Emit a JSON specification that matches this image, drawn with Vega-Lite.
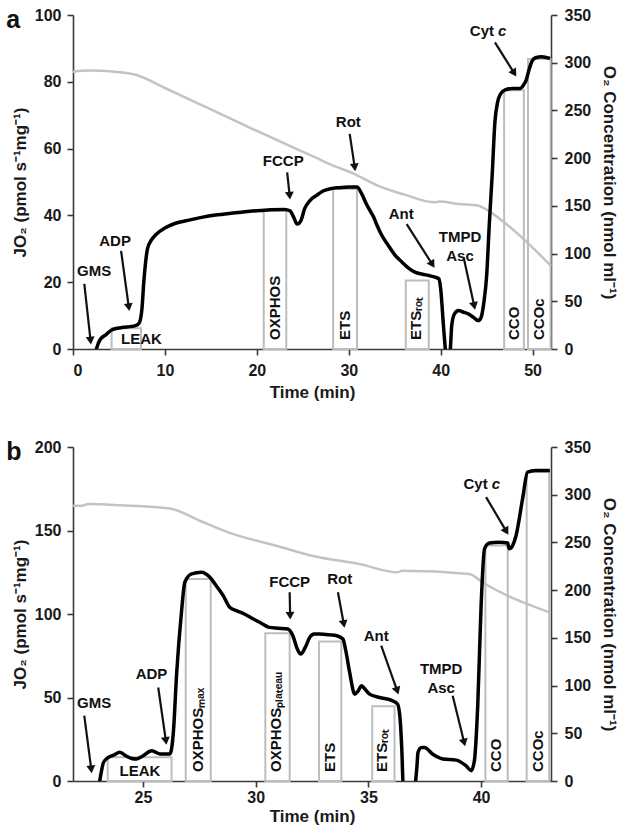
{
  "$schema": "https://vega.github.io/schema/vega-lite/v6.json",
  "background": "white",
  "padding": {"left": 6, "right": 5, "top": 7, "bottom": 3},
  "spacing": 39,
  "config": {
    "font": "Liberation Sans",
    "view": {"stroke": null},
    "axis": {"grid": false, "domainColor": "#3a3a3a", "domainWidth": 1.6, "tickColor": "#3a3a3a", "tickWidth": 1.6, "tickSize": 6, "labelFont": "Liberation Sans", "labelFontSize": 16, "labelFontWeight": "bold", "labelColor": "#1a1a1a", "titleFont": "Liberation Sans", "titleFontSize": 17, "titleFontWeight": "bold", "titleColor": "#1a1a1a"},
    "axisX": {"labelPadding": 7, "titlePadding": 6},
    "axisLeft": {"labelPadding": 6, "titlePadding": 5},
    "axisRight": {"labelPadding": 7, "titlePadding": 9}
  },
  "datasets": {
    "traceA": [
      {"t": 2.4, "v": -2}, {"t": 2.6, "v": 0.5}, {"t": 3.0, "v": 3.0}, {"t": 3.6, "v": 4.3}, {"t": 4.1, "v": 5.5}, {"t": 4.8, "v": 6.2}, {"t": 5.5, "v": 6.5}, {"t": 6.2, "v": 6.7}, {"t": 6.8, "v": 7.0}, {"t": 7.2, "v": 7.8}, {"t": 7.5, "v": 12}, {"t": 7.7, "v": 20}, {"t": 7.9, "v": 26}, {"t": 8.1, "v": 30}, {"t": 8.5, "v": 32.5}, {"t": 9.0, "v": 34.2}, {"t": 10.0, "v": 36.2}, {"t": 11.0, "v": 37.5}, {"t": 12.5, "v": 38.5}, {"t": 14.0, "v": 39.4}, {"t": 15.5, "v": 40.1}, {"t": 17.0, "v": 40.6}, {"t": 18.5, "v": 41.0}, {"t": 20.0, "v": 41.4}, {"t": 21.5, "v": 41.7}, {"t": 23.0, "v": 41.8}, {"t": 23.6, "v": 41.4}, {"t": 24.0, "v": 39.5}, {"t": 24.4, "v": 37.4}, {"t": 24.8, "v": 38.5}, {"t": 25.2, "v": 42}, {"t": 25.8, "v": 44.5}, {"t": 26.5, "v": 46}, {"t": 27.2, "v": 47.3}, {"t": 28.0, "v": 48.0}, {"t": 29.0, "v": 48.3}, {"t": 30.0, "v": 48.5}, {"t": 30.9, "v": 48.5}, {"t": 31.4, "v": 46.5}, {"t": 31.9, "v": 43.5}, {"t": 32.4, "v": 41}, {"t": 32.7, "v": 39.5}, {"t": 33.0, "v": 37.5}, {"t": 33.5, "v": 34.5}, {"t": 34.3, "v": 31}, {"t": 35.0, "v": 28.2}, {"t": 35.8, "v": 26}, {"t": 36.5, "v": 24.2}, {"t": 37.2, "v": 23}, {"t": 38.0, "v": 22.4}, {"t": 38.7, "v": 22}, {"t": 39.4, "v": 21.5}, {"t": 39.8, "v": 21}, {"t": 40.0, "v": 18}, {"t": 40.3, "v": 7}, {"t": 40.5, "v": 0}, {"t": 40.6, "v": -3}, {"t": 40.95, "v": -3}, {"t": 41.05, "v": 0}, {"t": 41.2, "v": 7}, {"t": 41.5, "v": 10.5}, {"t": 41.95, "v": 11.5}, {"t": 42.5, "v": 11}, {"t": 43.0, "v": 10.5}, {"t": 43.6, "v": 9.4}, {"t": 44.1, "v": 8.5}, {"t": 44.4, "v": 9.5}, {"t": 44.7, "v": 14}, {"t": 45.0, "v": 22}, {"t": 45.3, "v": 38}, {"t": 45.6, "v": 52}, {"t": 45.9, "v": 68}, {"t": 46.2, "v": 74}, {"t": 46.5, "v": 76.3}, {"t": 47.0, "v": 77.6}, {"t": 47.8, "v": 78}, {"t": 48.6, "v": 78}, {"t": 49.0, "v": 79}, {"t": 49.3, "v": 80.5}, {"t": 49.6, "v": 83.5}, {"t": 49.9, "v": 86}, {"t": 50.3, "v": 87.2}, {"t": 51.0, "v": 87.5}, {"t": 51.9, "v": 87}
    ],
    "o2A": [
      {"t": 0, "c": 290.6}, {"t": 1.0, "c": 291.5}, {"t": 2.1, "c": 291.8}, {"t": 4.0, "c": 291}, {"t": 6.9, "c": 287.2}, {"t": 10, "c": 273.5}, {"t": 15, "c": 251}, {"t": 20, "c": 228.5}, {"t": 24, "c": 211}, {"t": 26.2, "c": 201.5}, {"t": 28, "c": 193.5}, {"t": 30.7, "c": 183}, {"t": 33.2, "c": 171}, {"t": 36, "c": 162}, {"t": 39.4, "c": 153.7}, {"t": 39.8, "c": 154.5}, {"t": 42, "c": 152}, {"t": 44.1, "c": 150.2}, {"t": 44.85, "c": 146.8}, {"t": 46.9, "c": 132.8}, {"t": 49.4, "c": 111.8}, {"t": 52, "c": 87}
    ],
    "barsA": [
      {"name": "LEAK", "x1": 4.2, "x2": 7.4, "top": 6.2, "lx": null},
      {"name": "OXPHOS", "x1": 20.75, "x2": 23.2, "top": 41.5, "lx": 22.0},
      {"name": "ETS", "x1": 28.3, "x2": 30.9, "top": 47.9, "lx": 29.6},
      {"name": "ETSᵣₒₜ", "x1": 36.2, "x2": 38.7, "top": 20.5, "lx": 37.3},
      {"name": "CCO", "x1": 46.9, "x2": 49.05, "top": 77.5, "lx": 48.0},
      {"name": "CCOc", "x1": 49.5, "x2": 51.95, "top": 86.8, "lx": 50.65}
    ],
    "annA": [
      {"label": "GMS", "lx": 2.3, "ly": 23.3, "ax1": 1.23, "ay1": 19.5, "ax2": 1.91, "ay2": 2.5, "ang": -6},
      {"label": "ADP", "lx": 4.58, "ly": 32.4, "ax1": 5.23, "ay1": 29.4, "ax2": 6.07, "ay2": 12.5, "ang": -8},
      {"label": "FCCP", "lx": 22.87, "ly": 56.4, "ax1": 23.3, "ay1": 52.9, "ax2": 23.57, "ay2": 45.9, "ang": -5},
      {"label": "Rot", "lx": 29.95, "ly": 67.9, "ax1": 30.1, "ay1": 64.4, "ax2": 30.65, "ay2": 54.4, "ang": -7},
      {"label": "Ant", "lx": 35.7, "ly": 40.4, "ax1": 36.3, "ay1": 37.4, "ax2": 39.1, "ay2": 25.3, "ang": -32},
      {"label": "TMPD\nAsc", "lx": 42.1, "ly": 33.5, "ax1": 42.5, "ay1": 27.4, "ax2": 43.65, "ay2": 12.9, "ang": -12},
      {"label": "Cyt", "lx": 45.8, "ly": 95.3, "ax1": 45.9, "ay1": 91.8, "ax2": 48.0, "ay2": 82.6, "ang": -32},
      {"label": "LEAK", "lx": 7.45, "ly": 3.0, "ax1": null, "ay1": null, "ax2": null, "ay2": null, "ang": null}
    ],
    "traceB": [
      {"t": 23.05, "v": -3}, {"t": 23.15, "v": 5}, {"t": 23.25, "v": 11}, {"t": 23.45, "v": 14}, {"t": 23.7, "v": 15.5}, {"t": 23.98, "v": 17.2}, {"t": 24.28, "v": 14.8}, {"t": 24.5, "v": 13.5}, {"t": 24.72, "v": 13.2}, {"t": 25.0, "v": 15}, {"t": 25.39, "v": 18.1}, {"t": 25.75, "v": 16.2}, {"t": 26.2, "v": 16.2}, {"t": 26.35, "v": 29}, {"t": 26.5, "v": 65}, {"t": 26.71, "v": 101}, {"t": 26.86, "v": 119}, {"t": 27.16, "v": 124}, {"t": 27.6, "v": 125}, {"t": 27.97, "v": 122}, {"t": 28.3, "v": 116}, {"t": 28.56, "v": 111}, {"t": 28.85, "v": 104}, {"t": 29.15, "v": 102}, {"t": 29.5, "v": 100}, {"t": 29.9, "v": 97}, {"t": 30.25, "v": 94.5}, {"t": 30.6, "v": 92}, {"t": 31.0, "v": 91.5}, {"t": 31.43, "v": 91}, {"t": 31.65, "v": 87}, {"t": 31.85, "v": 79}, {"t": 32.0, "v": 76}, {"t": 32.2, "v": 80}, {"t": 32.4, "v": 86}, {"t": 32.6, "v": 88}, {"t": 32.84, "v": 88}, {"t": 33.3, "v": 87.5}, {"t": 33.6, "v": 87}, {"t": 33.87, "v": 85}, {"t": 34.0, "v": 78}, {"t": 34.17, "v": 65}, {"t": 34.4, "v": 52}, {"t": 34.55, "v": 54}, {"t": 34.7, "v": 57}, {"t": 34.85, "v": 55}, {"t": 35.05, "v": 52}, {"t": 35.5, "v": 50}, {"t": 36.08, "v": 48}, {"t": 36.3, "v": 46}, {"t": 36.42, "v": 35}, {"t": 36.48, "v": 20}, {"t": 36.55, "v": -3}, {"t": 37.05, "v": -3}, {"t": 37.15, "v": 8}, {"t": 37.2, "v": 17}, {"t": 37.35, "v": 20}, {"t": 37.49, "v": 20}, {"t": 37.86, "v": 16}, {"t": 38.3, "v": 13.2}, {"t": 38.9, "v": 12.5}, {"t": 39.34, "v": 9}, {"t": 39.56, "v": 6.2}, {"t": 39.7, "v": 12}, {"t": 39.85, "v": 45}, {"t": 40.0, "v": 105}, {"t": 40.15, "v": 139}, {"t": 40.37, "v": 142.5}, {"t": 40.8, "v": 143}, {"t": 41.18, "v": 142.5}, {"t": 41.25, "v": 139}, {"t": 41.4, "v": 141}, {"t": 41.55, "v": 147}, {"t": 41.84, "v": 169}, {"t": 42.06, "v": 185}, {"t": 42.4, "v": 186}, {"t": 43.05, "v": 186}
    ],
    "o2B": [
      {"t": 21.9, "c": 288.5}, {"t": 22.3, "c": 288.5}, {"t": 22.58, "c": 290.3}, {"t": 24, "c": 289}, {"t": 26.2, "c": 285.5}, {"t": 27.5, "c": 273}, {"t": 28.78, "c": 260.6}, {"t": 31, "c": 246}, {"t": 32.6, "c": 235.5}, {"t": 34.6, "c": 227.4}, {"t": 36.3, "c": 218.7}, {"t": 36.5, "c": 220.4}, {"t": 39.48, "c": 216.9}, {"t": 40.07, "c": 208}, {"t": 43.07, "c": 176.4}
    ],
    "barsB": [
      {"name": "LEAK", "x1": 23.44, "x2": 26.27, "top": 14.2, "lx": null},
      {"name": "OXPHOSₘₐₓ", "x1": 26.9, "x2": 28.01, "top": 121, "lx": 27.45},
      {"name": "OXPHOSₚₗₐₜₑₐᵤ", "x1": 30.43, "x2": 31.51, "top": 88.4, "lx": 30.9},
      {"name": "ETS", "x1": 32.81, "x2": 33.8, "top": 83.6, "lx": 33.3},
      {"name": "ETSᵣₒₜ", "x1": 35.17, "x2": 36.16, "top": 44.7, "lx": 35.62},
      {"name": "CCO", "x1": 40.19, "x2": 41.18, "top": 141, "lx": 40.68},
      {"name": "CCOc", "x1": 42.02, "x2": 43.02, "top": 185, "lx": 42.52}
    ],
    "annB": [
      {"label": "GMS", "lx": 22.84, "ly": 46.7, "ax1": 22.4, "ay1": 39.1, "ax2": 22.71, "ay2": 7, "ang": -7},
      {"label": "ADP", "lx": 25.38, "ly": 64, "ax1": 25.68, "ay1": 56, "ax2": 26.02, "ay2": 24, "ang": -8},
      {"label": "FCCP", "lx": 31.51, "ly": 119, "ax1": 31.51, "ay1": 113, "ax2": 31.53, "ay2": 99, "ang": -2},
      {"label": "Rot", "lx": 33.73, "ly": 121, "ax1": 33.65, "ay1": 113, "ax2": 33.91, "ay2": 94, "ang": -10},
      {"label": "Ant", "lx": 35.35, "ly": 87, "ax1": 35.57, "ay1": 81, "ax2": 36.28, "ay2": 54, "ang": -19},
      {"label": "TMPD\nAsc", "lx": 38.23, "ly": 67, "ax1": 38.74, "ay1": 51, "ax2": 39.25, "ay2": 23, "ang": -14},
      {"label": "Cyt", "lx": 40.29, "ly": 177.8, "ax1": 40.22, "ay1": 170, "ax2": 41.12, "ay2": 149.5, "ang": -30},
      {"label": "LEAK", "lx": 24.87, "ly": 5.8, "ax1": null, "ay1": null, "ax2": null, "ay2": null, "ang": null}
    ]
  },
  "vconcat": [
    {
      "title": {"text": "a", "anchor": "start", "frame": "bounds", "fontSize": 25, "fontWeight": "bold", "font": "Liberation Sans", "color": "#111", "dy": 30, "dx": -5},
      "width": 478,
      "height": 334,
      "resolve": {"scale": {"y": "independent"}},
      "layer": [
        {
          "data": {"name": "o2A"},
          "mark": {"type": "line", "color": "#c3c3c3", "strokeWidth": 2.5, "interpolate": "monotone"},
          "encoding": {
            "x": {"field": "t", "type": "quantitative", "scale": {"domain": [0, 52], "nice": false, "zero": false}, "axis": {"title": "Time (min)", "values": [0, 10, 20, 30, 40, 50]}},
            "y": {"field": "c", "type": "quantitative", "scale": {"domain": [0, 350], "nice": false}, "axis": {"orient": "right", "title": "O₂ Concentration (nmol ml⁻¹)", "values": [0, 50, 100, 150, 200, 250, 300, 350]}}
          }
        },
        {
          "layer": [
            {
              "data": {"name": "barsA"},
              "mark": {"type": "rect", "fill": "transparent", "stroke": "#bdbdbd", "strokeWidth": 2},
              "encoding": {
                "x": {"field": "x1", "type": "quantitative"},
                "x2": {"field": "x2"},
                "y": {"field": "top", "type": "quantitative", "scale": {"domain": [0, 100], "nice": false}, "axis": {"orient": "left", "title": "JO₂ (pmol s⁻¹mg⁻¹)", "values": [0, 20, 40, 60, 80, 100]}},
                "y2": {"datum": 0}
              }
            },
            {
              "data": {"name": "traceA"},
              "mark": {"type": "line", "color": "#000", "strokeWidth": 3.5, "interpolate": "monotone", "clip": true},
              "encoding": {
                "x": {"field": "t", "type": "quantitative"},
                "y": {"field": "v", "type": "quantitative"}
              }
            },
            {
              "data": {"name": "barsA"},
              "transform": [{"filter": "isValid(datum.lx)"}],
              "mark": {"type": "text", "angle": 270, "align": "left", "baseline": "middle", "dx": 9, "fontSize": 15, "fontWeight": "bold", "color": "#111"},
              "encoding": {
                "x": {"field": "lx", "type": "quantitative"},
                "y": {"datum": 0},
                "text": {"field": "name"}
              }
            },
            {
              "data": {"name": "annA"},
              "transform": [{"filter": "isValid(datum.ax1)"}],
              "mark": {"type": "rule", "color": "#111", "strokeWidth": 2.2},
              "encoding": {
                "x": {"field": "ax1", "type": "quantitative"},
                "y": {"field": "ay1", "type": "quantitative"},
                "x2": {"field": "ax2"},
                "y2": {"field": "ay2"}
              }
            },
            {
              "data": {"name": "annA"},
              "transform": [{"filter": "isValid(datum.ax1)"}],
              "mark": {"type": "point", "shape": "triangle-down", "filled": true, "color": "#111", "size": 80, "opacity": 1},
              "encoding": {
                "x": {"field": "ax2", "type": "quantitative"},
                "y": {"field": "ay2", "type": "quantitative"},
                "angle": {"field": "ang", "type": "quantitative", "scale": null}
              }
            },
            {
              "data": {"name": "annA"},
              "transform": [{"filter": "datum.label != 'Cyt'"}],
              "mark": {"type": "text", "align": "center", "baseline": "middle", "fontSize": 15, "fontWeight": "bold", "color": "#111", "lineBreak": "\n", "lineHeight": 19},
              "encoding": {
                "x": {"field": "lx", "type": "quantitative"},
                "y": {"field": "ly", "type": "quantitative"},
                "text": {"field": "label"}
              }
            },
            {
              "data": {"name": "annA"},
              "transform": [{"filter": "datum.label == 'Cyt'"}],
              "mark": {"type": "text", "align": "right", "baseline": "middle", "fontSize": 15, "fontWeight": "bold", "color": "#111"},
              "encoding": {
                "x": {"field": "lx", "type": "quantitative"},
                "y": {"field": "ly", "type": "quantitative"},
                "text": {"field": "label"}
              }
            },
            {
              "data": {"name": "annA"},
              "transform": [{"filter": "datum.label == 'Cyt'"}],
              "mark": {"type": "text", "align": "left", "baseline": "middle", "dx": 4, "fontSize": 15, "fontWeight": "bold", "fontStyle": "italic", "color": "#111"},
              "encoding": {
                "x": {"field": "lx", "type": "quantitative"},
                "y": {"field": "ly", "type": "quantitative"},
                "text": {"value": "c"}
              }
            }
          ]
        }
      ]
    },
    {
      "title": {"text": "b", "anchor": "start", "frame": "bounds", "fontSize": 25, "fontWeight": "bold", "font": "Liberation Sans", "color": "#111", "dy": 30, "dx": -5},
      "width": 478,
      "height": 334,
      "resolve": {"scale": {"y": "independent"}},
      "layer": [
        {
          "data": {"name": "o2B"},
          "mark": {"type": "line", "color": "#c3c3c3", "strokeWidth": 2.5, "interpolate": "monotone"},
          "encoding": {
            "x": {"field": "t", "type": "quantitative", "scale": {"domain": [21.9, 43.1], "nice": false, "zero": false}, "axis": {"title": "Time (min)", "values": [25, 30, 35, 40], "labelPadding": 2, "titlePadding": 3}},
            "y": {"field": "c", "type": "quantitative", "scale": {"domain": [0, 350], "nice": false}, "axis": {"orient": "right", "title": "O₂ Concentration (nmol ml⁻¹)", "values": [0, 50, 100, 150, 200, 250, 300, 350]}}
          }
        },
        {
          "layer": [
            {
              "data": {"name": "barsB"},
              "mark": {"type": "rect", "fill": "transparent", "stroke": "#bdbdbd", "strokeWidth": 2},
              "encoding": {
                "x": {"field": "x1", "type": "quantitative"},
                "x2": {"field": "x2"},
                "y": {"field": "top", "type": "quantitative", "scale": {"domain": [0, 200], "nice": false}, "axis": {"orient": "left", "title": "JO₂ (pmol s⁻¹mg⁻¹)", "values": [0, 50, 100, 150, 200]}},
                "y2": {"datum": 0}
              }
            },
            {
              "data": {"name": "traceB"},
              "mark": {"type": "line", "color": "#000", "strokeWidth": 3.5, "interpolate": "monotone", "clip": true},
              "encoding": {
                "x": {"field": "t", "type": "quantitative"},
                "y": {"field": "v", "type": "quantitative"}
              }
            },
            {
              "data": {"name": "barsB"},
              "transform": [{"filter": "isValid(datum.lx)"}],
              "mark": {"type": "text", "angle": 270, "align": "left", "baseline": "middle", "dx": 9, "fontSize": 15, "fontWeight": "bold", "color": "#111"},
              "encoding": {
                "x": {"field": "lx", "type": "quantitative"},
                "y": {"datum": 0},
                "text": {"field": "name"}
              }
            },
            {
              "data": {"name": "annB"},
              "transform": [{"filter": "isValid(datum.ax1)"}],
              "mark": {"type": "rule", "color": "#111", "strokeWidth": 2.2},
              "encoding": {
                "x": {"field": "ax1", "type": "quantitative"},
                "y": {"field": "ay1", "type": "quantitative"},
                "x2": {"field": "ax2"},
                "y2": {"field": "ay2"}
              }
            },
            {
              "data": {"name": "annB"},
              "transform": [{"filter": "isValid(datum.ax1)"}],
              "mark": {"type": "point", "shape": "triangle-down", "filled": true, "color": "#111", "size": 80, "opacity": 1},
              "encoding": {
                "x": {"field": "ax2", "type": "quantitative"},
                "y": {"field": "ay2", "type": "quantitative"},
                "angle": {"field": "ang", "type": "quantitative", "scale": null}
              }
            },
            {
              "data": {"name": "annB"},
              "transform": [{"filter": "datum.label != 'Cyt'"}],
              "mark": {"type": "text", "align": "center", "baseline": "middle", "fontSize": 15, "fontWeight": "bold", "color": "#111", "lineBreak": "\n", "lineHeight": 19},
              "encoding": {
                "x": {"field": "lx", "type": "quantitative"},
                "y": {"field": "ly", "type": "quantitative"},
                "text": {"field": "label"}
              }
            },
            {
              "data": {"name": "annB"},
              "transform": [{"filter": "datum.label == 'Cyt'"}],
              "mark": {"type": "text", "align": "right", "baseline": "middle", "fontSize": 15, "fontWeight": "bold", "color": "#111"},
              "encoding": {
                "x": {"field": "lx", "type": "quantitative"},
                "y": {"field": "ly", "type": "quantitative"},
                "text": {"field": "label"}
              }
            },
            {
              "data": {"name": "annB"},
              "transform": [{"filter": "datum.label == 'Cyt'"}],
              "mark": {"type": "text", "align": "left", "baseline": "middle", "dx": 4, "fontSize": 15, "fontWeight": "bold", "fontStyle": "italic", "color": "#111"},
              "encoding": {
                "x": {"field": "lx", "type": "quantitative"},
                "y": {"field": "ly", "type": "quantitative"},
                "text": {"value": "c"}
              }
            }
          ]
        }
      ]
    }
  ]
}
